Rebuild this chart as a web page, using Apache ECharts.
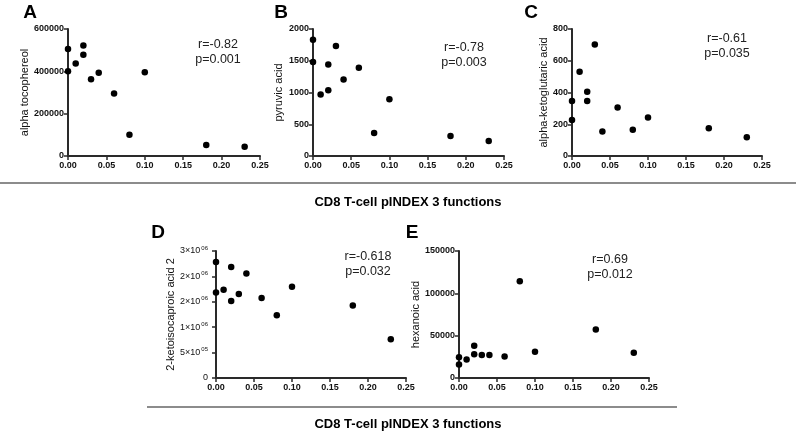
<!DOCTYPE html>
<html><head><meta charset="utf-8">
<script src="https://cdn.jsdelivr.net/npm/echarts@6/dist/echarts.min.js"></script>
<style>html,body{margin:0;padding:0;background:#fff}#c{width:796px;height:435px}</style>
</head><body><div id="c"></div>
<script>
// ---- data ----
const xValues = [0, 0, 0.01, 0.02, 0.02, 0.03, 0.04, 0.06, 0.08, 0.10, 0.18, 0.23];
const alphaTocophereol = [505000, 400000, 437000, 522000, 478000, 363000, 393000, 295000, 100000, 396000, 52000, 44000];
const pyruvicAcid = [1832, 1479, 968, 1442, 1037, 1732, 1205, 1389, 363, 895, 316, 237];
const alphaKetoglutaricAcid = [347, 227, 531, 404, 347, 703, 154, 305, 166, 242, 175, 118];
const ketoisocaproicAcid2 = [2282000, 1682000, 1735000, 2183000, 1517000, 1656000, 2058000, 1576000, 1233000, 1794000, 1425000, 765000];
const hexanoicAcid = [24500, 15800, 21800, 38000, 28100, 27300, 27300, 25300, 114400, 30900, 57400, 29700];
const xTickLabels = ['0.00', '0.05', '0.10', '0.15', '0.20', '0.25'];
const dTickLabels = ['0', '5×10^05', '1×10^06', '2×10^06', '2×10^06', '3×10^06'];
const panelLetters = ['A', 'B', 'C', 'D', 'E'];
const yNames = ['alpha tocophereol', 'pyruvic acid', 'alpha-ketoglutaric acid', '2-ketoisocaproic acid 2', 'hexanoic acid'];
const rTexts = ['r=-0.82', 'r=-0.78', 'r=-0.61', 'r=-0.618', 'r=0.69'];
const pTexts = ['p=0.001', 'p=0.003', 'p=0.035', 'p=0.032', 'p=0.012'];
const xTitle = 'CD8 T-cell pINDEX 3 functions';

// ---- layout ----
const FONT = 'Liberation Sans, Arial, Helvetica, sans-serif';
const panels = [
  {left: 68, top: 29, width: 192, height: 127, y: alphaTocophereol, max: 600000, interval: 200000, gap: 34, letter: [30, 13], ann: [218, 44]},
  {left: 313, top: 29, width: 191, height: 127, y: pyruvicAcid, max: 2000, interval: 500, gap: 29, letter: [281, 13], ann: [464, 47]},
  {left: 572, top: 29, width: 190, height: 127, y: alphaKetoglutaricAcid, max: 800, interval: 200, gap: 22, letter: [531, 13], ann: [727, 38]},
  {left: 216, top: 251, width: 190, height: 127, y: ketoisocaproicAcid2, max: 2500000, interval: 500000, gap: 33, letter: [158, 233], ann: [368, 256], sci: true},
  {left: 459, top: 251, width: 190, height: 127, y: hexanoicAcid, max: 150000, interval: 50000, gap: 36, letter: [412, 233], ann: [610, 259]}
];

const axisLine = {show: true, lineStyle: {color: '#2a2a2a', width: 2}};
const axisTick = {show: true, length: 4, lineStyle: {color: '#2a2a2a', width: 1.5}};
const grids = [], xAxes = [], yAxes = [], series = [], graphics = [];

panels.forEach((p, i) => {
  grids.push({left: p.left, top: p.top, width: p.width, height: p.height, containLabel: false});
  xAxes.push({
    type: 'value', gridIndex: i, min: 0, max: 0.25, interval: 0.05,
    axisLine, axisTick, splitLine: {show: false},
    axisLabel: {color: '#111', fontFamily: FONT, fontWeight: 'bold', fontSize: 9, margin: 5,
      formatter: v => xTickLabels[Math.round(v / 0.05)]}
  });
  yAxes.push({
    type: 'value', gridIndex: i, min: 0, max: p.max, interval: p.interval,
    axisLine, axisTick, splitLine: {show: false},
    name: yNames[i], nameLocation: 'middle', nameGap: p.gap, nameRotate: 90,
    nameTextStyle: {color: '#111', fontFamily: FONT, fontSize: 11},
    axisLabel: p.sci ? {
      color: '#111', fontFamily: FONT, fontSize: 9, margin: 8,
      formatter: v => {
        const s = dTickLabels[Math.round(v / p.interval)];
        const k = s.indexOf('^');
        return k < 0 ? s : s.slice(0, k) + '{s|' + s.slice(k + 1) + '}';
      },
      rich: {s: {fontSize: 6, fontFamily: FONT, color: '#111', padding: [0, 0, 6, 1]}}
    } : {color: '#111', fontFamily: FONT, fontWeight: 'bold', fontSize: 9, margin: 4,
      formatter: v => String(Math.round(v))}
  });
  series.push({
    type: 'scatter', xAxisIndex: i, yAxisIndex: i, symbol: 'circle', symbolSize: 6.5,
    itemStyle: {color: '#000', opacity: 1}, data: xValues.map((x, j) => [x, p.y[j]])
  });
  graphics.push({type: 'text', x: p.letter[0], y: p.letter[1],
    style: {text: panelLetters[i], font: 'bold 19px ' + FONT, fill: '#000', textAlign: 'center', textVerticalAlign: 'middle'}});
  graphics.push({type: 'text', x: p.ann[0], y: p.ann[1] - 7,
    style: {text: rTexts[i] + '\n' + pTexts[i], font: '12.5px ' + FONT, fill: '#222', textAlign: 'center', textVerticalAlign: 'top', lineHeight: 15}});
});

graphics.push({type: 'line', shape: {x1: 0, y1: 183, x2: 796, y2: 183}, style: {stroke: '#666', lineWidth: 1.5}});
graphics.push({type: 'line', shape: {x1: 147, y1: 407, x2: 677, y2: 407}, style: {stroke: '#666', lineWidth: 1.5}});
graphics.push({type: 'text', x: 408, y: 202, style: {text: xTitle, font: 'bold 13px ' + FONT, fill: '#000', textAlign: 'center', textVerticalAlign: 'middle'}});
graphics.push({type: 'text', x: 408, y: 424, style: {text: xTitle, font: 'bold 13px ' + FONT, fill: '#000', textAlign: 'center', textVerticalAlign: 'middle'}});

const chart = echarts.init(document.getElementById('c'), null, {renderer: 'canvas'});
chart.setOption({
  animation: false, backgroundColor: '#fff',
  grid: grids, xAxis: xAxes, yAxis: yAxes, series, graphic: graphics
});
</script></body></html>
